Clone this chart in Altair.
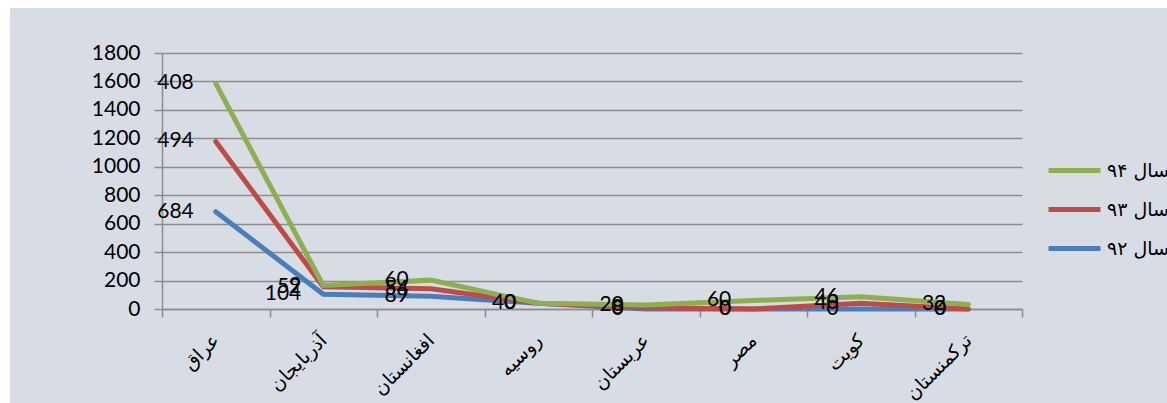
import altair as alt
import pandas as pd

categories = ["عراق", "آذربایجان", "افغانستان", "روسیه", "عربستان", "مصر", "کویت", "ترکمنستان"]
series_names = ["سال ۹۲", "سال ۹۳", "سال ۹۴"]
values_92 = [684, 104, 89, 40, 0, 0, 0, 0]
values_93 = [494, 52, 54, 0, 8, 0, 40, 0]
values_94 = [408, 9, 60, 0, 20, 60, 46, 32]
colors = {"سال ۹۴": "#8DAF4F", "سال ۹۳": "#BE4B48", "سال ۹۲": "#4A7EBB"}
y_ticks = [0, 200, 400, 600, 800, 1000, 1200, 1400, 1600, 1800]

rows = []
for si, (name, vals) in enumerate(zip(series_names, [values_92, values_93, values_94])):
    for ci, (c, v) in enumerate(zip(categories, vals)):
        rows.append({"cat": c, "series": name, "ord": si, "value": v})
df = pd.DataFrame(rows)

legend_order = ["سال ۹۴", "سال ۹۳", "سال ۹۲"]
color_scale = alt.Scale(domain=legend_order, range=[colors[s] for s in legend_order])

x_enc = alt.X(
    "cat:N",
    sort=categories,
    bandPosition=0.5,
    scale=alt.Scale(type="band", paddingInner=0, paddingOuter=0),
    axis=alt.Axis(
        title=None,
        labelAngle=315,
        labelAlign="right",
        labelBaseline="middle",
        labelFont="DejaVu Sans",
        labelFontSize=19,
        labelColor="black",
        labelPadding=20,
        tickBand="extent",
        tickSize=8,
        tickColor="#8C8C8C",
        tickWidth=1.5,
        domainColor="#8C8C8C",
        domainWidth=1.5,
        grid=False,
    ),
)
y_enc = alt.Y(
    "y1:Q",
    scale=alt.Scale(domain=[0, 1800], nice=False),
    axis=alt.Axis(
        title=None,
        values=y_ticks,
        format="d",
        labelFont="Lato",
        labelFontSize=21,
        labelColor="black",
        labelPadding=14,
        tickSize=8,
        tickColor="#8C8C8C",
        tickWidth=1.5,
        domainColor="#8C8C8C",
        domainWidth=1.5,
        grid=True,
        gridColor="#8C8C8C",
        gridWidth=1.5,
    ),
)

base = alt.Chart(df).transform_stack(
    stack="value",
    groupby=["cat"],
    as_=["y0", "y1"],
    sort=[alt.SortField("ord", order="ascending")],
)

layers = []
for s in series_names:
    layers.append(
        base.transform_filter(alt.datum.series == s)
        .mark_line(strokeWidth=5, strokeCap="round")
        .encode(
            x=x_enc,
            y=y_enc,
            color=alt.Color(
                "series:N",
                scale=color_scale,
                legend=alt.Legend(
                    title=None,
                    orient="none",
                    legendX=884,
                    legendY=89,
                    symbolType="stroke",
                    symbolStrokeWidth=5,
                    symbolSize=2700,
                    labelFont="DejaVu Sans",
                    labelFontSize=19,
                    labelColor="black",
                    labelOffset=4,
                    rowPadding=-15,
                ),
            ),
        )
    )

labels = base.mark_text(
    align="right", baseline="middle", dx=-22, font="Lato", fontSize=21, color="black"
).encode(x=x_enc, y=y_enc, text=alt.Text("value:Q"))

margin_top = alt.Chart(alt.Data(values=[{}])).mark_rect(color="white").encode(
    x=alt.value(-162), x2=alt.value(1005), y=alt.value(-53), y2=alt.value(-45)
)
margin_left = alt.Chart(alt.Data(values=[{}])).mark_rect(color="white").encode(
    x=alt.value(-162), x2=alt.value(-152), y=alt.value(-53), y2=alt.value(350)
)

chart = (
    alt.layer(margin_top, margin_left, *layers, labels)
    .properties(
        width=860,
        height=256,
        background="#D8DCE5",
        padding={"left": 162, "top": 53, "right": 145, "bottom": 94},
        autosize=alt.AutoSizeParams(type="none"),
    )
    .configure_view(stroke=None)
)

chart.save("out.html", embed_options={"renderer": "svg", "actions": False})
